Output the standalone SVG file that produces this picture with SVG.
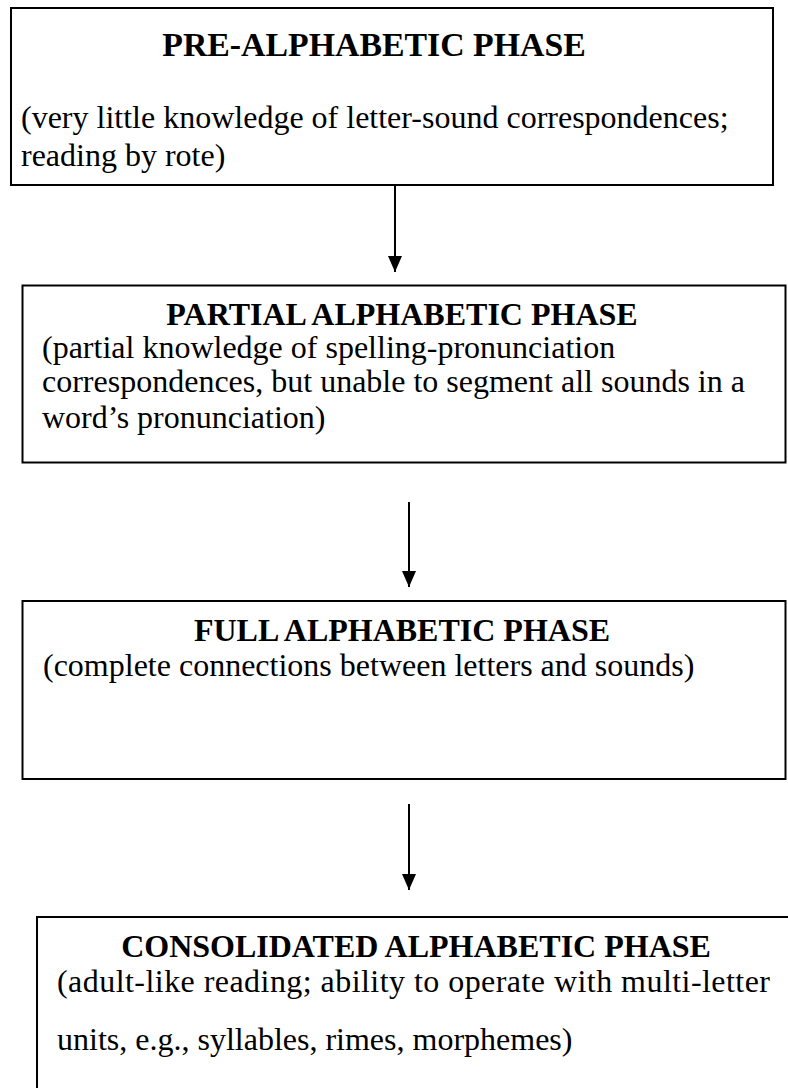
<svg xmlns="http://www.w3.org/2000/svg" width="788" height="1088" viewBox="0 0 788 1088">
<defs>
<style>
.box{fill:#fff;stroke:#000;stroke-width:2}
.t{font-family:"Liberation Serif","Times New Roman",serif;font-size:32px;fill:#000}
.h{font-weight:bold;text-anchor:middle}
.c{stroke:#000;stroke-width:2;fill:none}
</style>
<marker id="ah" viewBox="0 0 16 14" refX="16" refY="7" markerWidth="16" markerHeight="14" markerUnits="userSpaceOnUse" orient="auto">
<path d="M0,0 L16,7 L0,14 Z" fill="#000"/>
</marker>
</defs>
<rect width="788" height="1088" fill="#fff"/>
<g id="connectors">
<line class="c" x1="395" y1="186" x2="395" y2="272" marker-end="url(#ah)"/>
<line class="c" x1="409" y1="502" x2="409" y2="587" marker-end="url(#ah)"/>
<line class="c" x1="409" y1="804" x2="409" y2="890" marker-end="url(#ah)"/>
</g>
<g id="pre">
<rect class="box" x="11" y="8" width="762" height="177"/>
<text class="t h" x="374" y="56" style="font-size:33.8px">PRE-ALPHABETIC PHASE</text>
<text class="t" x="21" y="128">(very little knowledge of letter-sound correspondences;</text>
<text class="t" x="21" y="166">reading by rote)</text>
</g>
<g id="partial">
<rect class="box" x="22.5" y="285.5" width="763" height="177"/>
<text class="t h" x="402" y="325">PARTIAL ALPHABETIC PHASE</text>
<text class="t" x="42" y="358">(partial knowledge of spelling-pronunciation</text>
<text class="t" x="42" y="392">correspondences, but unable to segment all sounds in a</text>
<text class="t" x="42" y="428">word’s pronunciation)</text>
</g>
<g id="full">
<rect class="box" x="22.5" y="601" width="763" height="178"/>
<text class="t h" x="402" y="641">FULL ALPHABETIC PHASE</text>
<text class="t" x="43" y="676">(complete connections between letters and sounds)</text>
</g>
<g id="consolidated">
<rect class="box" x="37" y="917" width="800" height="250"/>
<text class="t h" x="416" y="957">CONSOLIDATED ALPHABETIC PHASE</text>
<text class="t" x="57" y="992" textLength="713" lengthAdjust="spacing">(adult-like reading; ability to operate with multi-letter</text>
<text class="t" x="57" y="1050">units, e.g., syllables, rimes, morphemes)</text>
</g>
</svg>
